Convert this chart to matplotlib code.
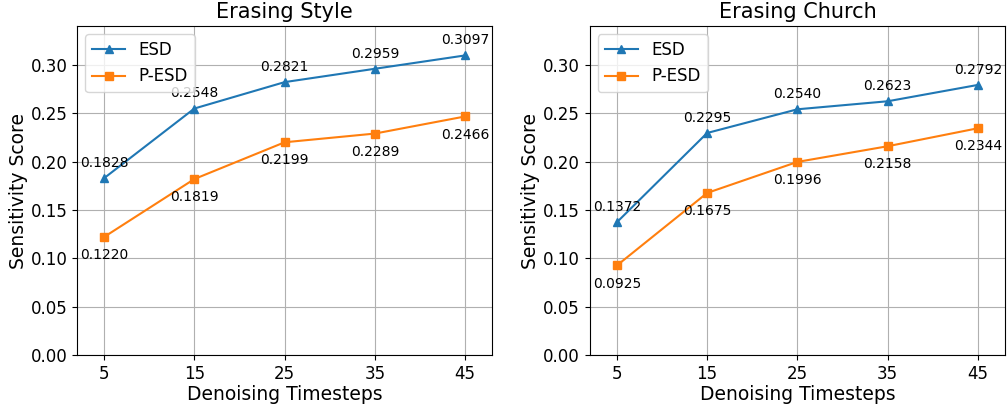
import matplotlib
import matplotlib.pyplot as plt

matplotlib.use("Agg")

timesteps = [5, 15, 25, 35, 45]
style_esd = [0.1828, 0.2548, 0.2821, 0.2959, 0.3097]
style_pesd = [0.1220, 0.1819, 0.2199, 0.2289, 0.2466]
church_esd = [0.1372, 0.2295, 0.2540, 0.2623, 0.2792]
church_pesd = [0.0925, 0.1675, 0.1996, 0.2158, 0.2344]

panels = [
    ("Erasing Style", style_esd, style_pesd),
    ("Erasing Church", church_esd, church_pesd),
]

fig, axes = plt.subplots(1, 2, figsize=(10.07, 4.08), dpi=100)
fig.subplots_adjust(left=0.0765, right=0.998, top=0.936, bottom=0.130, wspace=0.235)

for ax, (title, esd, pesd) in zip(axes, panels):
    ax.plot(timesteps, esd, marker="^", color="#1f77b4", label="ESD", linewidth=1.5)
    ax.plot(timesteps, pesd, marker="s", color="#ff7f0e", label="P-ESD", linewidth=1.5)
    for x, y in zip(timesteps, esd):
        ax.annotate(f"{y:.4f}", (x, y), textcoords="offset points", xytext=(0, 8),
                    ha="center", fontsize=10)
    for x, y in zip(timesteps, pesd):
        ax.annotate(f"{y:.4f}", (x, y), textcoords="offset points", xytext=(0, -16),
                    ha="center", fontsize=10)
    ax.set_title(title, fontsize=15)
    ax.set_xlabel("Denoising Timesteps", fontsize=13.5, labelpad=2)
    ax.set_ylabel("Sensitivity Score", fontsize=13.5, labelpad=2)
    ax.set_xticks(timesteps)
    ax.set_xlim(2, 48)
    ax.set_ylim(0, 0.34)
    ax.tick_params(labelsize=12)
    ax.grid(True)
    ax.legend(loc="upper left", fontsize=12)

fig.savefig("out.png", dpi=100)
